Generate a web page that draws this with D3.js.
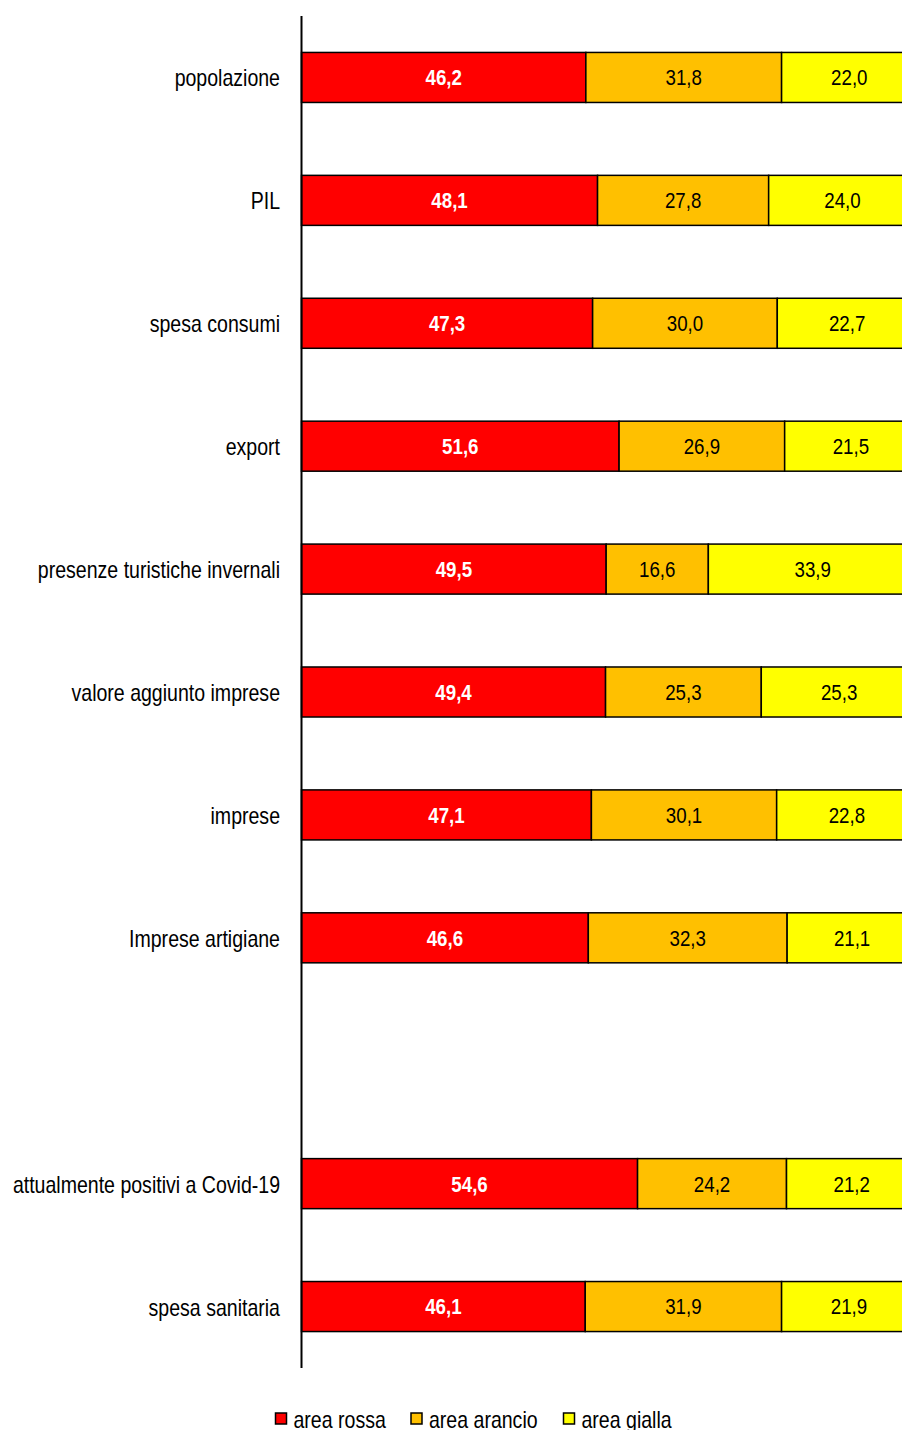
<!DOCTYPE html>
<html>
<head>
<meta charset="utf-8">
<script src="https://cdn.jsdelivr.net/npm/d3@7/dist/d3.min.js"></script>
<style>
  html, body { margin: 0; padding: 0; background: #fff; }
  svg { display: block; }
  text { font-family: "Liberation Sans", Arial, sans-serif; }
</style>
</head>
<body>
<svg id="chart" width="902" height="1430"></svg>
<script>
// Share (%) of each indicator by Covid risk area
const categories = [
  "popolazione", "PIL", "spesa consumi", "export",
  "presenze turistiche invernali", "valore aggiunto imprese",
  "imprese", "Imprese artigiane",
  "attualmente positivi a Covid-19", "spesa sanitaria"
];
const areaRossa   = [46.2, 48.1, 47.3, 51.6, 49.5, 49.4, 47.1, 46.6, 54.6, 46.1];
const areaArancio = [31.8, 27.8, 30.0, 26.9, 16.6, 25.3, 30.1, 32.3, 24.2, 31.9];
const areaGialla  = [22.0, 24.0, 22.7, 21.5, 33.9, 25.3, 22.8, 21.1, 21.2, 21.9];
const seriesNames = ["area rossa", "area arancio", "area gialla"];
const seriesColors = ["#FF0000", "#FFC000", "#FFFF00"];

// An empty row separates the economic indicators from the health ones
const spacer = "\u00a0";
const rowOrder = [...categories.slice(0, 8), spacer, ...categories.slice(8)];

const rows = categories.map((c, i) => ({
  cat: c, "area rossa": areaRossa[i], "area arancio": areaArancio[i], "area gialla": areaGialla[i]
}));
const stacked = d3.stack().keys(seriesNames)(rows);

const NARROW = 0.85; // condensed look for all text
const svg = d3.select("#chart");
const axisX = 301.5;
const x = d3.scaleLinear().domain([0, 100]).range([axisX, 917]);
const y = d3.scaleBand().domain(rowOrder).range([16, 1368]).paddingInner(0.593).paddingOuter(0.2965);
const fmt = v => d3.format(".1f")(v).replace(".", ",");

// Bars
stacked.forEach((layer, si) => {
  const g = svg.append("g");
  g.selectAll("rect").data(layer).join("rect")
    .attr("x", d => x(d[0]))
    .attr("y", d => y(d.data.cat))
    .attr("width", d => x(d[1]) - x(d[0]))
    .attr("height", y.bandwidth())
    .attr("fill", seriesColors[si])
    .attr("stroke", "#000")
    .attr("stroke-width", 1.5);
  g.selectAll("text").data(layer).join("text")
    .attr("transform", d => `translate(${(x(d[0]) + x(d[1])) / 2},${y(d.data.cat) + y.bandwidth() / 2}) scale(${NARROW},1)`)
    .attr("dy", "0.36em")
    .attr("text-anchor", "middle")
    .attr("font-size", 22)
    .attr("font-weight", si === 0 ? "bold" : "normal")
    .attr("fill", si === 0 ? "#fff" : "#000")
    .text(d => fmt(d[1] - d[0]));
});

// Category axis
const yAxis = d3.axisLeft(y).tickSize(0).tickPadding(0);
const ga = svg.append("g").attr("transform", `translate(${axisX},0)`).call(yAxis);
ga.select(".domain").attr("stroke", "#000").attr("stroke-width", 2).attr("d", "M0,16V1368");
ga.selectAll(".tick text")
  .attr("x", 0)
  .attr("dy", "0.39em")
  .attr("transform", `translate(-21.5,0) scale(${NARROW},1)`)
  .attr("font-size", 23).attr("fill", "#000")
  .style("font-family", '"Liberation Sans", Arial, sans-serif');

// Legend
const legendX = [275.5, 411, 563.5];
const lg = svg.append("g").selectAll("g").data(seriesNames).join("g")
  .attr("transform", (d, i) => `translate(${legendX[i]},1413)`);
lg.append("rect").attr("width", 11).attr("height", 11)
  .attr("fill", (d, i) => seriesColors[i]).attr("stroke", "#000").attr("stroke-width", 1.5);
lg.append("text")
  .attr("transform", `translate(18,14.5) scale(${NARROW},1)`)
  .attr("font-size", 23).attr("fill", "#000").text(d => d);
</script>
</body>
</html>
